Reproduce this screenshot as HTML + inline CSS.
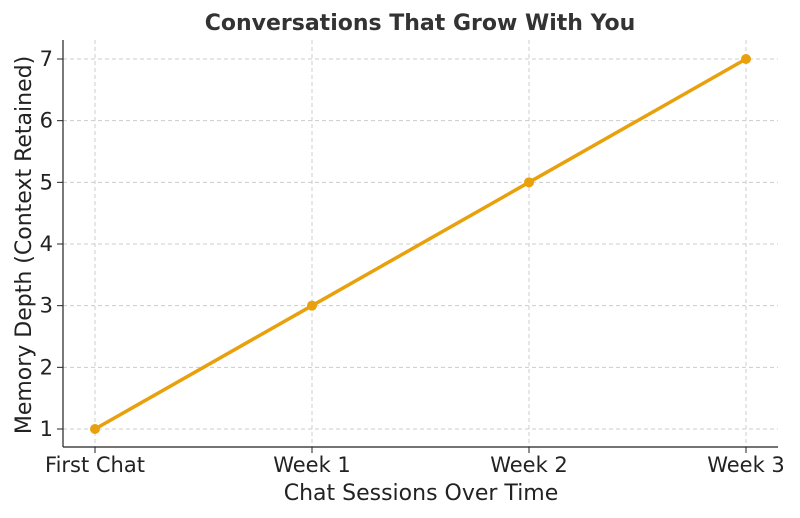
<!DOCTYPE html>
<html>
<head>
<meta charset="utf-8">
<style>
  body { margin: 0; background: #fff; }
  svg { display: block; font-family: "DejaVu Sans", "Liberation Sans", sans-serif; }
</style>
</head>
<body>
<svg id="chart" width="800" height="518" viewBox="0 0 800 518">
  <text x="420" y="30" text-anchor="middle" font-size="22" font-weight="bold" fill="#333">Conversations That Grow With You</text>
  <g id="grid"></g>
  <g id="axes"></g>
  <g id="series"></g>
  <text x="421" y="500" text-anchor="middle" font-size="22" fill="#222">Chat Sessions Over Time</text>
  <text transform="translate(31,245) rotate(-90)" text-anchor="middle" font-size="22" fill="#222">Memory Depth (Context Retained)</text>
</svg>
<script>
const categories = ["First Chat", "Week 1", "Week 2", "Week 3"];
const values = [1, 3, 5, 7];
const yTicks = [1, 2, 3, 4, 5, 6, 7];

const NS = "http://www.w3.org/2000/svg";
const plotLeft = 63, plotRight = 778, plotTop = 40, plotBottom = 447;
function xScale(i) { return 95 + i * (746 - 95) / (categories.length - 1); }
function yScale(v) { return 429 + (v - 1) * (59 - 429) / 6; }
function mk(tag, attrs, parent) {
  const e = document.createElementNS(NS, tag);
  for (const k in attrs) e.setAttribute(k, attrs[k]);
  parent.appendChild(e);
  return e;
}
const gridG = document.getElementById("grid");
const axesG = document.getElementById("axes");
const seriesG = document.getElementById("series");

yTicks.forEach(t => {
  const y = yScale(t);
  const g = mk("line", {x1: plotLeft, x2: plotRight, y1: y, y2: y, stroke: "#ccc", "stroke-dasharray": "4,3", "stroke-width": 1}, gridG);
  
  
  const tk = mk("line", {x1: plotLeft - 6, x2: plotLeft, y1: y, y2: y, stroke: "#222", "stroke-width": 1}, axesG);
  
  
  const lb = mk("text", {x: plotLeft - 10, y: y + 7, "text-anchor": "end", "font-size": 21, fill: "#222"}, axesG);
  lb.textContent = t;
  
  
});
categories.forEach((c, i) => {
  const x = xScale(i);
  const g = mk("line", {x1: x, x2: x, y1: plotTop, y2: plotBottom, stroke: "#ccc", "stroke-dasharray": "4,3", "stroke-width": 1}, gridG);
  
  
  const tk = mk("line", {x1: x, x2: x, y1: plotBottom, y2: plotBottom + 6, stroke: "#222", "stroke-width": 1}, axesG);
  
  
  const lb = mk("text", {x: x, y: plotBottom + 25, "text-anchor": "middle", "font-size": 21, fill: "#222"}, axesG);
  lb.textContent = c;
  
  
});
const sp1 = mk("line", {x1: plotLeft, x2: plotLeft, y1: plotTop, y2: plotBottom, stroke: "#222", "stroke-width": 1.2}, axesG);


const sp2 = mk("line", {x1: plotLeft, x2: plotRight, y1: plotBottom, y2: plotBottom, stroke: "#222", "stroke-width": 1.2}, axesG);



const pts = values.map((v, i) => xScale(i) + "," + yScale(v)).join(" ");
const pl = mk("polyline", {points: pts, fill: "none", stroke: "#E8A10C", "stroke-width": 3.5, "stroke-linejoin": "round"}, seriesG);


values.forEach((v, i) => {
  const c = mk("circle", {cx: xScale(i), cy: yScale(v), r: 5, fill: "#E8A10C"}, seriesG);
  
  
});
</script>
</body>
</html>
